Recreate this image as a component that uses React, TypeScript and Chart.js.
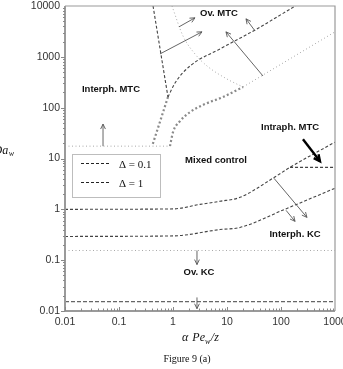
import React, { useEffect, useRef } from 'react';
import { Chart, registerables } from 'chart.js';
Chart.register(...registerables);

// ---- axes ----
const xTicks = [0.01, 0.1, 1, 10, 100, 1000];
const yTicks = [0.01, 0.1, 1, 10, 100, 1000, 10000];

// ---- boundary curves ----
const ovKcDashX = [0.01, 1000];
const ovKcDashY = [0.0153, 0.0153];
const ovKcDotX = [0.01, 1000];
const ovKcDotY = [0.155, 0.155];
const interMtcDotX = [0.01, 0.88];
const interMtcDotY = [17.5, 17.5];
const steepDashX = [0.427, 0.807];
const steepDashY = [10000, 162];
const steepDotX = [0.807, 0.41];
const steepDotY = [162, 17.5];
const ovMtcDashX = [0.807, 1.09, 2.07, 7.4, 33.3, 198];
const ovMtcDashY = [162, 306, 662, 1430, 3390, 10500];
const thickDotX = [0.88, 1.0, 1.34, 2.07, 3.92, 8.4, 19.8];
const thickDotY = [17.5, 33, 54, 82, 118, 162, 255];
const ovMtcDotX = [19.8, 1000];
const ovMtcDotY = [255, 3100];
const topDotX = [0.957, 1.53, 2.55, 4.26, 10, 19.8];
const topDotY = [10000, 2580, 1140, 662, 366, 255];
const kcUpperX = [0.01, 1, 3.16, 7.4, 17.4, 71, 147, 1000];
const kcUpperY = [1.0, 1.02, 1.25, 1.44, 1.72, 4.1, 6.7, 21];
const kcLowerX = [0.01, 1, 7.4, 17.4, 117, 1000];
const kcLowerY = [0.293, 0.3, 0.4, 0.44, 1.0, 2.6];
const intraX = [147, 1000];
const intraY = [6.7, 6.7];

// ---- region labels ----
const regionLabels = ['Ov. MTC', 'Interph. MTC', 'Mixed control', 'Intraph. MTC', 'Interph. KC', 'Ov. KC'];
const regionLabelX = [7.1, 0.071, 6.25, 147, 182, 3.03];
const regionLabelY = [7020, 233, 9.25, 41.4, 0.32, 0.0572];

// ---- arrows (data coordinates) ----
const arrowX0 = [0.0506, 2.78, 2.78, 0.574, 1.29, 46.4, 33, 255, 74, 124];
const arrowY0 = [17.5, 0.155, 0.0185, 1140, 3890, 420, 3240, 24, 4.09, 0.955];
const arrowX1 = [0.0506, 2.78, 2.78, 3.44, 2.55, 9.57, 22.5, 527, 302, 182];
const arrowY1 = [47.5, 0.082, 0.0111, 3100, 5850, 3100, 5590, 8.85, 0.695, 0.58];
const arrowBold = [false, false, false, false, false, false, false, true, false, false];

const legendLabels = ['\u0394 = 0.1', '\u0394 = 1'];

const SANS = "Arial, 'Liberation Sans', sans-serif";
const SERIF = "'Times New Roman', 'Liberation Serif', serif";

const pts = (xs: number[], ys: number[]) => xs.map((x, i) => ({ x, y: ys[i] }));

const dashed = { borderColor: '#444', borderWidth: 1.1, borderDash: [3, 2] };
const lightDot = { borderColor: '#a8a8a8', borderWidth: 1, borderDash: [1, 2.5] };
const thickDot = { borderColor: '#8a8a8a', borderWidth: 2.2, borderDash: [2, 2.3], borderCapStyle: 'butt' };

function drawArrow(ctx: CanvasRenderingContext2D, x0: number, y0: number, x1: number, y1: number, bold: boolean) {
  ctx.save();
  ctx.strokeStyle = bold ? '#000' : '#555';
  ctx.lineWidth = bold ? 2.4 : 0.9;
  ctx.setLineDash([]);
  ctx.beginPath();
  ctx.moveTo(x0, y0);
  ctx.lineTo(x1, y1);
  ctx.stroke();
  const a = Math.atan2(y1 - y0, x1 - x0);
  const h = bold ? 7 : 5.5;
  const sp = 0.45;
  ctx.beginPath();
  ctx.moveTo(x1 - h * Math.cos(a - sp), y1 - h * Math.sin(a - sp));
  ctx.lineTo(x1, y1);
  ctx.lineTo(x1 - h * Math.cos(a + sp), y1 - h * Math.sin(a + sp));
  ctx.stroke();
  ctx.restore();
}

const overlay = {
  id: 'overlay',
  afterDatasetsDraw(chart: any) {
    const ctx: CanvasRenderingContext2D = chart.ctx;
    const xs = chart.scales.x;
    const ys = chart.scales.y;
    const { left, right, top, bottom } = chart.chartArea;
    ctx.save();
    // frame
    ctx.strokeStyle = '#9a9a9a';
    ctx.lineWidth = 1.2;
    ctx.beginPath();
    ctx.moveTo(left, top);
    ctx.lineTo(right, top);
    ctx.lineTo(right, bottom);
    ctx.stroke();
    ctx.lineWidth = 2;
    ctx.beginPath();
    ctx.moveTo(left, top);
    ctx.lineTo(left, bottom);
    ctx.lineTo(right, bottom);
    ctx.stroke();
    // ticks
    ctx.lineWidth = 1;
    ctx.strokeStyle = '#888';
    for (let k = -2; k <= 3; k++) {
      for (let m = 1; m <= 9; m++) {
        const v = m * Math.pow(10, k);
        if (v <= 10000) {
          const py = Math.round(ys.getPixelForValue(v)) + 0.5;
          const len = m === 1 ? 4 : 2;
          ctx.beginPath();
          ctx.moveTo(left - len, py);
          ctx.lineTo(left, py);
          ctx.stroke();
        }
        if (v <= 1000 && k <= 2) {
          const px = Math.round(xs.getPixelForValue(v)) + 0.5;
          const len = m === 1 ? 4 : 2.5;
          ctx.beginPath();
          ctx.moveTo(px, bottom);
          ctx.lineTo(px, bottom - len);
          ctx.stroke();
        }
      }
    }
    // arrows
    for (let i = 0; i < arrowX0.length; i++) {
      drawArrow(ctx,
        xs.getPixelForValue(arrowX0[i]), ys.getPixelForValue(arrowY0[i]),
        xs.getPixelForValue(arrowX1[i]), ys.getPixelForValue(arrowY1[i]), arrowBold[i]);
    }
    // region labels
    ctx.fillStyle = '#111';
    ctx.font = `bold 9.5px ${SANS}`;
    ctx.textAlign = 'center';
    ctx.textBaseline = 'middle';
    regionLabels.forEach((t, i) => {
      ctx.fillText(t, xs.getPixelForValue(regionLabelX[i]), ys.getPixelForValue(regionLabelY[i]));
    });
    // legend
    const lx = left + 7, ly = top + 148, lw = 88, lh = 43;
    ctx.fillStyle = '#fff';
    ctx.fillRect(lx, ly, lw, lh);
    ctx.strokeStyle = '#bdbdbd';
    ctx.lineWidth = 1;
    ctx.strokeRect(lx + 0.5, ly + 0.5, lw, lh);
    legendLabels.forEach((t, i) => {
      const yy = ly + 9.5 + i * 19;
      ctx.strokeStyle = '#222';
      ctx.setLineDash([3, 2]);
      ctx.beginPath();
      ctx.moveTo(lx + 9, yy);
      ctx.lineTo(lx + 38, yy);
      ctx.stroke();
      ctx.setLineDash([]);
      ctx.fillStyle = '#111';
      ctx.font = `11px ${SERIF}`;
      ctx.textAlign = 'left';
      ctx.textBaseline = 'alphabetic';
      ctx.fillText(t, lx + 47, yy + 4);
    });
    ctx.restore();
  },
  afterDraw(chart: any) {
    const ctx: CanvasRenderingContext2D = chart.ctx;
    const { left, bottom } = chart.chartArea;
    ctx.save();
    ctx.fillStyle = '#111';
    ctx.textBaseline = 'alphabetic';
    ctx.textAlign = 'left';
    // y title (partly cut off at the left edge, as in the reference)
    ctx.font = `italic 12px ${SERIF}`;
    let x = left - 71.5;
    const yb = bottom - 157.5;
    ctx.fillText('D', x, yb);
    x += ctx.measureText('D').width;
    ctx.fillText('a', x, yb);
    x += ctx.measureText('a').width + 0.5;
    ctx.font = `italic 8px ${SERIF}`;
    ctx.fillText('w', x, yb + 2.5);
    // x title
    const xb = bottom + 30;
    let xx = 182;
    ctx.font = `italic 12px ${SERIF}`;
    ctx.fillText('\u03b1', xx, xb);
    xx += ctx.measureText('\u03b1 ').width + 1;
    ctx.fillText('Pe', xx, xb);
    xx += ctx.measureText('Pe').width;
    ctx.font = `italic 8px ${SERIF}`;
    ctx.fillText('w', xx, xb + 2.5);
    xx += ctx.measureText('w').width + 0.5;
    ctx.font = `italic 12px ${SERIF}`;
    ctx.fillText('/z', xx, xb);
    // figure caption
    ctx.font = `10px ${SERIF}`;
    ctx.textAlign = 'center';
    ctx.fillText('Figure 9 (a)', 187, bottom + 51);
    ctx.restore();
  },
};

export default function App() {
  const ref = useRef<HTMLCanvasElement>(null);
  useEffect(() => {
    if (!ref.current) return;
    const common = { showLine: true, pointRadius: 0, pointHoverRadius: 0, fill: false };
    const curve = { ...common, cubicInterpolationMode: 'monotone' };
    const chart = new Chart(ref.current, {
      type: 'scatter',
      data: {
        datasets: [
          { ...common, data: pts(ovKcDashX, ovKcDashY), borderColor: '#666', borderWidth: 1.4, borderDash: [4, 2] },
          { ...common, ...lightDot, data: pts(ovKcDotX, ovKcDotY) },
          { ...common, ...lightDot, data: pts(interMtcDotX, interMtcDotY) },
          { ...common, ...dashed, data: pts(steepDashX, steepDashY) },
          { ...common, ...thickDot, data: pts(steepDotX, steepDotY) },
          { ...curve, ...dashed, data: pts(ovMtcDashX, ovMtcDashY) },
          { ...curve, ...thickDot, data: pts(thickDotX, thickDotY) },
          { ...common, ...lightDot, data: pts(ovMtcDotX, ovMtcDotY) },
          { ...curve, ...lightDot, data: pts(topDotX, topDotY) },
          { ...curve, ...dashed, data: pts(kcUpperX, kcUpperY) },
          { ...curve, ...dashed, data: pts(kcLowerX, kcLowerY) },
          { ...common, ...dashed, data: pts(intraX, intraY) },
        ] as any,
      },
      options: {
        animation: false,
        responsive: false,
        devicePixelRatio: 1,
        layout: { padding: { left: 0, top: 6, right: 8, bottom: 0 } },
        plugins: { legend: { display: false }, tooltip: { enabled: false } },
        events: [],
        scales: {
          x: {
            type: 'logarithmic',
            min: 0.01,
            max: 1000,
            afterBuildTicks: (s: any) => { s.ticks = xTicks.map((v) => ({ value: v })); },
            afterFit: (s: any) => { s.height = 58; s.paddingLeft = 0; s.paddingRight = 0; },
            ticks: {
              callback: (v: any) => String(v),
              font: { family: SANS, size: 10.5 },
              color: '#333',
              padding: 5,
              maxRotation: 0,
              autoSkip: false,
            },
            grid: { display: false, drawTicks: false },
            border: { display: false },
          },
          y: {
            type: 'logarithmic',
            min: 0.01,
            max: 10000,
            afterBuildTicks: (s: any) => { s.ticks = yTicks.map((v) => ({ value: v })); },
            afterFit: (s: any) => { s.width = 65; s.paddingTop = 0; s.paddingBottom = 0; },
            ticks: {
              callback: (v: any) => String(v),
              font: { family: SANS, size: 10.5 },
              color: '#333',
              padding: 5,
              autoSkip: false,
            },
            grid: { display: false, drawTicks: false },
            border: { display: false },
          },
        },
      } as any,
      plugins: [overlay],
    });
    return () => chart.destroy();
  }, []);
  return (
    <div style={{ position: 'fixed', left: 0, top: 0, width: 343, height: 369, background: '#fff' }}>
      <canvas ref={ref} width={343} height={369} style={{ display: 'block' }} />
    </div>
  );
}
